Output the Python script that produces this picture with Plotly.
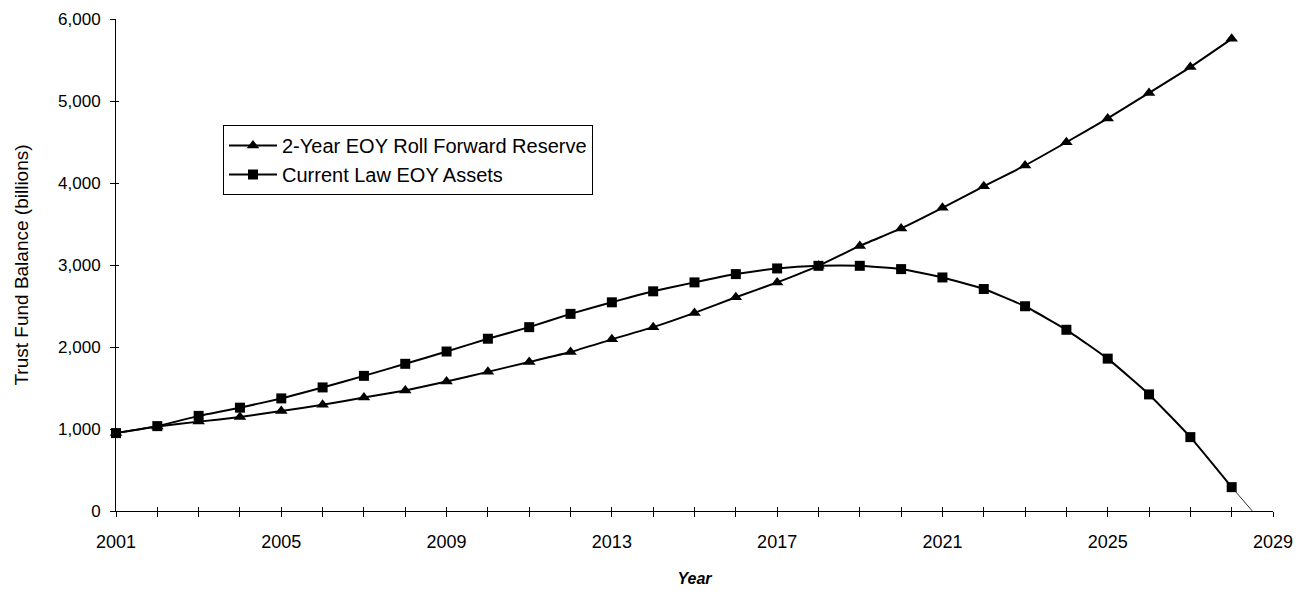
import plotly.graph_objects as go

years = list(range(2001, 2029))
reserve = [950, 1030, 1090, 1145, 1220, 1295, 1385, 1470, 1578, 1697, 1818, 1939, 2093, 2242,
           2416, 2606, 2788, 2990, 3233, 3446, 3697, 3960, 4214, 4497, 4788, 5099, 5414, 5758]
assets = [950, 1035, 1160, 1260, 1373, 1507, 1648, 1795, 1945, 2101, 2242, 2404, 2545, 2679,
          2788, 2889, 2958, 2990, 2990, 2950, 2848, 2707, 2497, 2210, 1858, 1422, 901, 291]
depletion_x = [2028, 2028.5]
depletion_y = [291, 0]

tick_years = list(range(2001, 2030))
tick_text = [str(y) if (y - 2001) % 4 == 0 else "" for y in tick_years]
y_ticks = [0, 1000, 2000, 3000, 4000, 5000, 6000]

font = "Liberation Sans, Arial, sans-serif"
x_range = [2001, 2029]
y_range = [0, 6000]

fig = go.Figure()
fig.add_trace(go.Scatter(
    x=years, y=reserve, name="2-Year EOY Roll Forward Reserve",
    mode="lines+markers", line=dict(color="black", width=2, shape="spline", smoothing=0.4),
    marker=dict(symbol="triangle-up", size=11, color="black"), cliponaxis=False))
fig.add_trace(go.Scatter(
    x=years, y=assets, name="Current Law EOY Assets",
    mode="lines+markers", line=dict(color="black", width=2, shape="spline", smoothing=0.4),
    marker=dict(symbol="square", size=10, color="black"), cliponaxis=False))
fig.add_trace(go.Scatter(
    x=depletion_x, y=depletion_y, mode="lines", showlegend=False,
    xaxis="x2", yaxis="y2",
    line=dict(color="black", width=0.8), cliponaxis=False))

fig.update_layout(
    width=1295, height=583,
    paper_bgcolor="white", plot_bgcolor="white",
    margin=dict(l=108, r=30, t=11, b=80),
    font=dict(family=font, size=18, color="black"),
    showlegend=True,
    legend=dict(x=(223 - 116) / 1157, y=(512 - 126) / 492, xanchor="left", yanchor="top",
                bordercolor="black", borderwidth=1, bgcolor="white",
                font=dict(size=20), tracegroupgap=0, itemwidth=48),
    xaxis=dict(range=x_range, tickvals=tick_years, ticktext=tick_text, automargin=False,
               showline=True, linecolor="black", linewidth=1, showgrid=False, zeroline=False,
               ticks="outside", ticklen=5, tickcolor="black", tickfont=dict(size=18),
               ticklabelstandoff=9, ticklabeloverflow="allow",
               title=dict(text="<b><i>Year</i></b>", font=dict(size=16), standoff=22)),
    yaxis=dict(range=y_range, tickvals=y_ticks, tickformat=",", automargin=False,
               showline=True, linecolor="black", linewidth=1, showgrid=False, zeroline=False,
               ticks="outside", ticklen=5, tickcolor="black", tickfont=dict(size=17),
               ticklabelstandoff=6, ticklabeloverflow="allow",
               title=dict(text="Trust Fund Balance (billions)", font=dict(size=19), standoff=24)),
    xaxis2=dict(range=x_range, overlaying="x", tickvals=tick_years, showticklabels=False,
                ticks="inside", ticklen=4, tickcolor="black", showgrid=False, zeroline=False,
                showline=False, automargin=False),
    yaxis2=dict(range=y_range, overlaying="y", tickvals=y_ticks, showticklabels=False,
                ticks="inside", ticklen=3, tickcolor="black", showgrid=False, zeroline=False,
                showline=False, automargin=False),
)

fig.write_html("out.html")
